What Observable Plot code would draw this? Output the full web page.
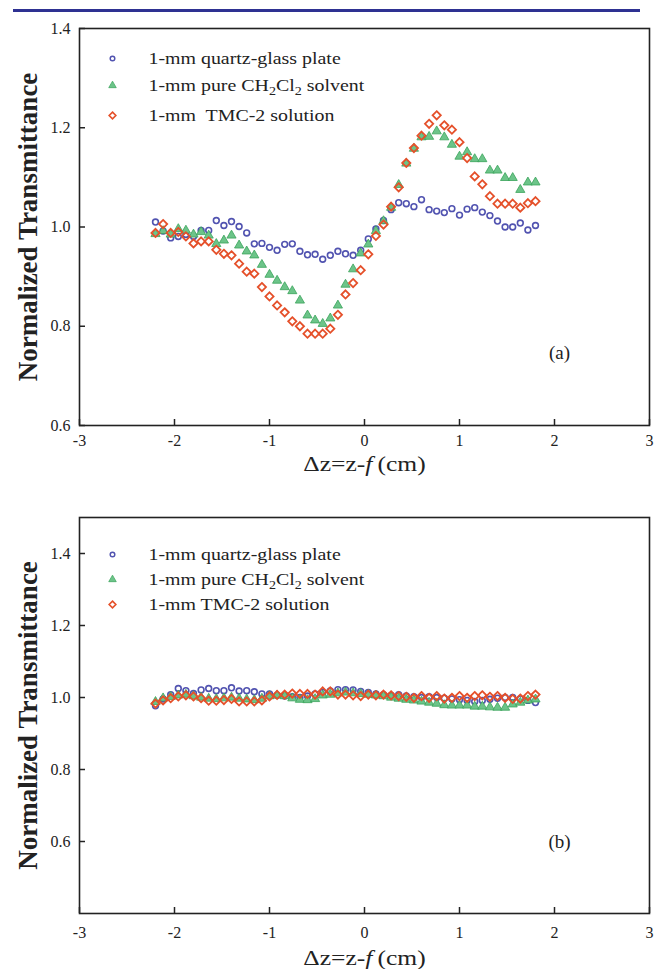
<!DOCTYPE html>
<html><head><meta charset="utf-8">
<script src="https://cdn.jsdelivr.net/npm/d3@7"></script>
<script src="https://cdn.jsdelivr.net/npm/@observablehq/plot@0.6"></script>
<style>
body{margin:0;background:#fff;}
#wrap{position:relative;width:655px;height:969px;background:#fff;overflow:hidden}
#rule{position:absolute;left:13px;top:9px;width:627px;height:3px;background:#2e3192}
#a{position:absolute;left:0;top:0}
#b{position:absolute;left:0;top:480px}
</style></head><body>
<div id="wrap"><div id="rule"></div><div id="a"></div><div id="b"></div></div>
<script>
// ---- data ----
const dz = [-2.20,-2.12,-2.04,-1.96,-1.88,-1.80,-1.72,-1.64,-1.56,-1.48,-1.40,-1.32,-1.24,-1.16,-1.08,-1.00,-0.92,-0.84,-0.76,-0.68,-0.60,-0.52,-0.44,-0.36,-0.28,-0.20,-0.12,-0.04,0.04,0.12,0.20,0.28,0.36,0.44,0.52,0.60,0.68,0.76,0.84,0.92,1.00,1.08,1.16,1.24,1.32,1.40,1.48,1.56,1.64,1.72,1.80];

const seriesNames = ["1-mm quartz-glass plate", "1-mm pure CH2Cl2 solvent", "1-mm  TMC-2 solution"];
const seriesNamesB = ["1-mm quartz-glass plate", "1-mm pure CH2Cl2 solvent", "1-mm TMC-2 solution"];

const quartzA = [1.010,0.992,0.978,0.981,0.985,0.981,0.993,0.993,1.013,1.003,
  1.011,1.001,0.988,0.966,0.967,0.959,0.953,0.965,0.966,0.951,
  0.944,0.945,0.935,0.943,0.951,0.946,0.943,0.953,0.976,0.996,
  1.013,1.035,1.049,1.047,1.041,1.055,1.035,1.032,1.029,1.037,
  1.024,1.036,1.039,1.030,1.023,1.012,1.000,1.000,1.008,0.994,1.003];
const solventA = [0.986,0.992,0.985,0.996,0.993,0.985,0.990,0.983,0.966,0.973,
  0.983,0.963,0.951,0.943,0.924,0.904,0.892,0.879,0.871,0.852,
  0.822,0.812,0.805,0.816,0.842,0.884,0.915,0.947,0.965,0.992,
  1.012,1.039,1.085,1.128,1.158,1.181,1.182,1.193,1.181,1.166,
  1.142,1.151,1.137,1.137,1.114,1.114,1.099,1.099,1.075,1.090,1.090];
const tmcA = [0.988,1.006,0.988,0.990,0.981,0.967,0.971,0.971,0.954,0.946,
  0.943,0.926,0.910,0.906,0.879,0.860,0.842,0.828,0.810,0.800,
  0.785,0.785,0.785,0.795,0.823,0.864,0.887,0.913,0.945,0.982,
  1.005,1.041,1.080,1.129,1.159,1.184,1.208,1.225,1.205,1.196,
  1.171,1.139,1.102,1.086,1.062,1.047,1.047,1.047,1.039,1.048,1.052];

const quartzB = [0.977,0.996,1.008,1.025,1.019,1.011,1.021,1.025,1.019,1.019,
  1.027,1.018,1.019,1.016,1.010,1.010,1.006,1.004,1.002,1.000,
  1.004,1.010,1.014,1.018,1.022,1.022,1.021,1.017,1.014,1.010,
  1.008,1.006,1.008,1.004,1.002,1.000,1.002,1.000,0.998,0.996,
  0.994,0.992,0.989,0.992,0.995,0.998,1.000,1.000,0.996,0.992,0.986];
const solventB = [0.988,0.998,1.002,1.006,1.008,1.004,1.000,0.997,0.996,0.998,
  1.000,0.997,0.995,0.993,0.997,1.004,1.006,1.004,0.998,0.994,
  0.993,0.996,1.006,1.008,1.012,1.014,1.012,1.010,1.008,1.006,
  1.004,1.000,0.997,0.994,0.992,0.989,0.986,0.983,0.979,0.978,
  0.978,0.978,0.975,0.975,0.973,0.972,0.972,0.981,0.986,0.992,0.995];
const tmcB = [0.983,0.992,0.998,1.003,1.006,1.003,0.998,0.991,0.991,0.993,
  0.996,0.989,0.989,0.989,0.992,1.003,1.007,1.008,1.011,1.010,
  1.010,1.008,1.017,1.017,1.008,1.008,1.006,1.004,1.008,1.006,
  1.008,1.006,1.004,1.002,0.999,1.004,0.999,1.004,0.997,0.999,
  1.004,0.999,1.004,1.006,1.002,1.004,0.999,0.996,0.997,1.004,1.008];

const xTicks = [-3,-2,-1,0,1,2,3];
const yTicksA = [0.6,0.8,1.0,1.2,1.4];
const yTicksB = [0.6,0.8,1.0,1.2,1.4];
const yTitle = "Normalized Transmittance";
const xTitle = "\u0394z=z-f (cm)";

// ---- styles ----
const styles = [
  {symbol: "circle", fill: "none", stroke: "#5153b0", strokeWidth: 1.6, r: 2.9, lr: 2.3},
  {symbol: "triangle", fill: "#6cc489", stroke: "#3aa35a", strokeWidth: 0.8, r: 3.4, lr: 2.8},
  {symbol: "diamond2", fill: "none", stroke: "#e5502a", strokeWidth: 1.8, r: 3.7, lr: 3.0}
];
const INK = "#222";

function panel(el, o) {
  const W = 655, ML = 79, MR = 6;
  const H = o.height - o.mt - o.mb;
  const tyLen = 6 / H * (o.yDomain[1] - o.yDomain[0]);
  const txLen = 6 / (W - ML - MR) * 6;
  const marks = [
    Plot.frame({stroke: INK, strokeWidth: 1.6}),
    Plot.ruleX(xTicks, {x: d => d, y1: o.yDomain[0], y2: o.yDomain[0] + tyLen, stroke: INK, strokeWidth: 1.5}),
    Plot.ruleY(o.yTicks, {y: d => d, x1: -3, x2: -3 + txLen, stroke: INK, strokeWidth: 1.5}),
    Plot.axisX(xTicks, {tickSize: 0, tickPadding: o.xPad, tickFormat: d => String(d), label: null, fill: INK}),
    Plot.axisY(o.yTicks, {tickSize: 0, tickPadding: 9, tickFormat: d => d.toFixed(1), label: null, fill: INK})
  ];
  o.series.forEach((vals, k) => {
    const s = styles[k];
    marks.push(Plot.dot(vals.map((v, i) => ({x: dz[i], y: v})), {
      x: "x", y: "y", symbol: s.symbol, fill: s.fill, stroke: s.stroke, strokeWidth: s.strokeWidth, r: s.r
    }));
  });
  o.names.forEach((name, k) => {
    const s = styles[k];
    marks.push(Plot.dot([name], {frameAnchor: "top-left", dx: 33, dy: o.legendDy[k],
      symbol: s.symbol, fill: s.fill, stroke: s.stroke, strokeWidth: s.strokeWidth * 0.9, r: s.lr}));
    marks.push(Plot.text([name], {text: d => d, frameAnchor: "top-left", dx: 69, dy: o.legendDy[k],
      textAnchor: "start", lineAnchor: "middle", fontSize: 17, fill: INK, className: "stretch"}));
  });
  marks.push(Plot.text([o.tag], {text: d => d, frameAnchor: "bottom-right", dx: -90, dy: o.tagDy,
    textAnchor: "middle", lineAnchor: "middle", fontSize: 19, fill: INK}));
  marks.push(Plot.text([yTitle], {text: d => d, frameAnchor: "left", dx: -51, rotate: -90,
    textAnchor: "middle", lineAnchor: "middle", fontSize: 27, fontWeight: "bold", fill: INK}));
  marks.push(Plot.text([xTitle], {text: d => d, frameAnchor: "bottom", dy: o.titleDy,
    textAnchor: "middle", lineAnchor: "middle", fontSize: 22, fill: INK}));

  const svg = Plot.plot({
    width: W, height: o.height,
    marginLeft: ML, marginRight: MR, marginTop: o.mt, marginBottom: o.mb,
    x: {domain: [-3, 3]},
    y: {domain: o.yDomain},
    style: {fontFamily: "'Liberation Serif','Times New Roman',serif", fontSize: "16px", color: INK, background: "transparent", overflow: "visible"},
    marks
  });
  el.appendChild(svg);

  // rich text: subscripts and italic f
  d3.select(svg).selectAll("text").each(function () {
    const t = this.textContent;
    if (t.includes("CH2Cl2")) {
      const sel = d3.select(this);
      const [pre, post] = t.split("CH2Cl2");
      sel.text(null);
      sel.append("tspan").text(pre + "CH");
      sel.append("tspan").attr("dy", 4).attr("font-size", 12).text("2");
      sel.append("tspan").attr("dy", -4).text("Cl");
      sel.append("tspan").attr("dy", 4).attr("font-size", 12).text("2");
      sel.append("tspan").attr("dy", -4).text(post);
    } else if (t === xTitle) {
      const sel = d3.select(this);
      sel.text(null);
      sel.append("tspan").text("\u0394z=z-");
      sel.append("tspan").attr("font-style", "italic").text("f");
      sel.append("tspan").text("\u2009(cm)");
      const len = this.getComputedTextLength();
      sel.attr("textLength", len * 1.16).attr("lengthAdjust", "spacingAndGlyphs");
    }
  });
  d3.select(svg).selectAll(".stretch text").each(function () {
    const len = this.getComputedTextLength();
    d3.select(this).attr("textLength", len * 1.17).attr("lengthAdjust", "spacingAndGlyphs");
  });
}

panel(document.getElementById("a"), {
  height: 480, mt: 28, mb: 55, yDomain: [0.6, 1.4], yTicks: yTicksA,
  series: [quartzA, solventA, tmcA], names: seriesNames, legendDy: [30, 57, 87],
  tag: "(a)", tagDy: -73, xPad: 9, titleDy: 38
});
panel(document.getElementById("b"), {
  height: 489, mt: 37, mb: 56, yDomain: [0.4, 1.5], yTicks: yTicksB,
  series: [quartzB, solventB, tmcB], names: seriesNamesB, legendDy: [37, 62, 87],
  tag: "(b)", tagDy: -72, xPad: 13, titleDy: 44
});
</script>
</body></html>
